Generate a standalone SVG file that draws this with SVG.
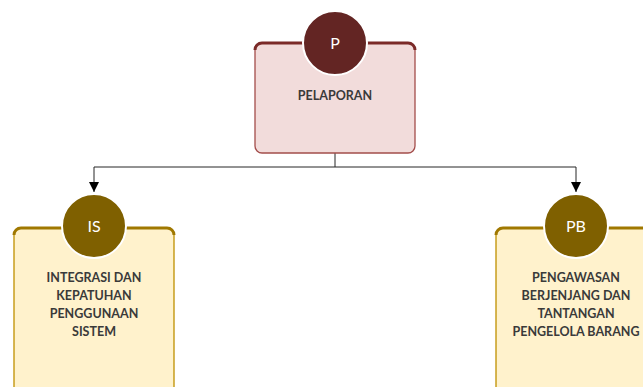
<svg xmlns="http://www.w3.org/2000/svg" width="643" height="387" viewBox="0 0 643 387">
<defs>
<style>
.lbl{font-family:Lato,"Liberation Sans",Arial,sans-serif;font-weight:bold;font-size:12.5px;fill:#3a3a3a;text-anchor:middle}
.ini{font-family:Lato,"Liberation Sans",Arial,sans-serif;font-size:16px;fill:#ffffff;text-anchor:middle}
.conn{fill:none;stroke:#262626;stroke-width:1}
.redbox{fill:#f2dcdb;stroke:#a34d4b;stroke-width:1.3}
.redtop{fill:none;stroke:#7b2a28;stroke-width:3}
.redc{fill:#632523;stroke:#ffffff;stroke-width:2}
.ybox{fill:#fff2cc;stroke:#bf9000;stroke-width:1.3}
.ytop{fill:none;stroke:#a07800;stroke-width:3}
.yc{fill:#7f6000;stroke:#ffffff;stroke-width:2}
</style>
<marker id="arr" viewBox="0 0 10 10" refX="10" refY="5" markerWidth="10" markerHeight="10" markerUnits="userSpaceOnUse" orient="auto">
<path d="M0,0 L10,5 L0,10 z" fill="#000000"/>
</marker>
</defs>
<g id="connectors">
<path class="conn" d="M335,153 V167 H94 V192" marker-end="url(#arr)"/>
<path class="conn" d="M335,167 H576 V192" marker-end="url(#arr)"/>
</g>
<g id="node-P">
<rect class="redbox" x="255" y="43" width="160" height="110" rx="7"/>
<path class="redtop" d="M255,50 A7,7 0 0 1 262,43 H408 A7,7 0 0 1 415,50"/>
<circle class="redc" cx="335" cy="43" r="32"/>
<text class="ini" x="335" y="48.5">P</text>
<text class="lbl" x="335" y="100">PELAPORAN</text>
</g>
<g id="node-IS">
<rect class="ybox" x="14" y="228" width="160" height="170" rx="7"/>
<path class="ytop" d="M14,235 A7,7 0 0 1 21,228 H167 A7,7 0 0 1 174,235"/>
<circle class="yc" cx="94" cy="226" r="32"/>
<text class="ini" x="94" y="231.5">IS</text>
<text class="lbl" x="94" y="282">INTEGRASI DAN</text>
<text class="lbl" x="94" y="300">KEPATUHAN</text>
<text class="lbl" x="94" y="318">PENGGUNAAN</text>
<text class="lbl" x="94" y="336">SISTEM</text>
</g>
<g id="node-PB">
<rect class="ybox" x="496" y="228" width="160" height="170" rx="7"/>
<path class="ytop" d="M496,235 A7,7 0 0 1 503,228 H649 A7,7 0 0 1 656,235"/>
<circle class="yc" cx="576" cy="226" r="32"/>
<text class="ini" x="576" y="231.5">PB</text>
<text class="lbl" x="576" y="282">PENGAWASAN</text>
<text class="lbl" x="576" y="300">BERJENJANG DAN</text>
<text class="lbl" x="576" y="318">TANTANGAN</text>
<text class="lbl" x="576" y="336">PENGELOLA BARANG</text>
</g>
</svg>
